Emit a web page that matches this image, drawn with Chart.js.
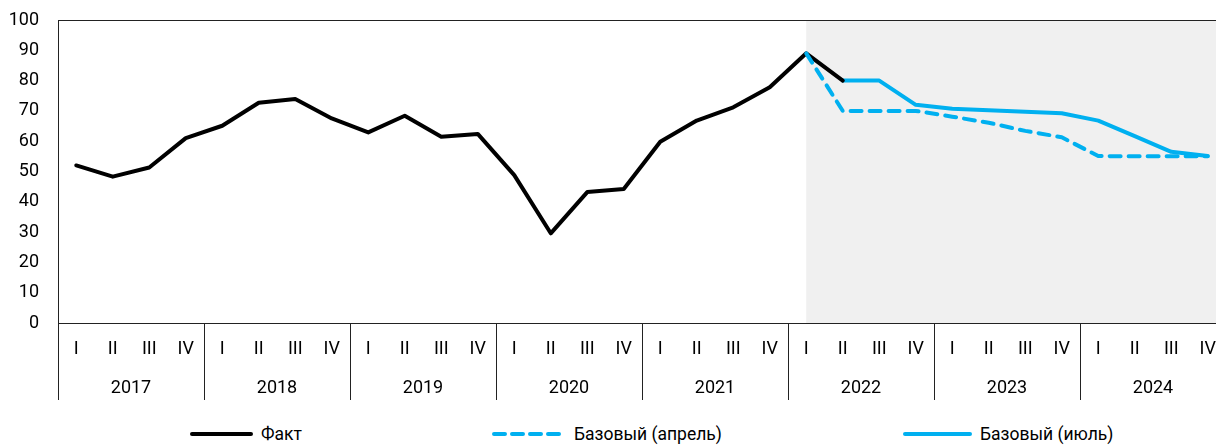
<!DOCTYPE html>
<html>
<head>
<meta charset="utf-8">
<script src="https://cdn.jsdelivr.net/npm/chart.js@4.4.1/dist/chart.umd.min.js"></script>
<style>
  html, body { margin:0; padding:0; background:#fff; overflow:hidden; width:1216px; height:446px; }
  #wrap { position:relative; width:1230px; height:412px; }
  #legend { position:absolute; top:424px; left:0; width:1216px; height:24px; font-family:Roboto,sans-serif; font-size:17.5px; color:#000; }
  .li { position:absolute; top:0; display:flex; align-items:center; white-space:nowrap; }
  .li svg { margin-right:8px; }
</style>
</head>
<body>
<div id="wrap"><canvas id="c" width="1230" height="412"></canvas></div>
<div id="legend"></div>
<script>
const quarters = ["I","II","III","IV"];
const years = ["2017","2018","2019","2020","2021","2022","2023","2024"];
const categories = [];
years.forEach(y => quarters.forEach(q => categories.push(q)));

const fact = [52,48.3,51.3,61,65.1,72.7,73.9,67.5,62.9,68.4,61.5,62.4,48.8,29.6,43.2,44.2,59.8,66.8,71.2,77.8,89,80,
  null,null,null,null,null,null,null,null,null,null];
const baseApril = [null,null,null,null,null,null,null,null,null,null,null,null,null,null,null,null,null,null,null,null,
  89,70,70,70,68.1,66.1,63.4,61.3,55.1,55,55,55];
const baseJuly = [null,null,null,null,null,null,null,null,null,null,null,null,null,null,null,null,null,null,null,null,null,
  80,80,72,70.7,70.2,69.7,69.2,66.8,61.7,56.5,55.1];
const yTicks = [0,10,20,30,40,50,60,70,80,90,100];
const forecastStartIndex = 20;

const BLUE = "#00B0F0";
const FONT = 'Roboto,sans-serif';

const decor = {
  id: "decor",
  beforeDatasetsDraw(chart) {
    const {ctx, chartArea:a, scales:{x}} = chart;
    const xs = x.getPixelForValue(forecastStartIndex);
    ctx.save();
    ctx.fillStyle = "#F0F0F0";
    ctx.fillRect(xs, a.top, a.right - xs, a.bottom - a.top);
    ctx.strokeStyle = "#222";
    ctx.lineWidth = 1;
    ctx.beginPath();
    ctx.moveTo(a.left, a.top + 0.5);
    ctx.lineTo(a.right, a.top + 0.5);
    ctx.stroke();
    ctx.restore();
  },
  afterDraw(chart) {
    const {ctx, chartArea:a, scales:{x}} = chart;
    const step = x.getPixelForValue(1) - x.getPixelForValue(0);
    ctx.save();
    ctx.strokeStyle = "#222";
    ctx.lineWidth = 1;
    for (let k = 0; k <= years.length; k++) {
      const px = Math.round(x.getPixelForValue(k * 4) - step / 2) + 0.5;
      ctx.beginPath();
      ctx.moveTo(px, a.bottom);
      ctx.lineTo(px, a.bottom + 77);
      ctx.stroke();
    }
    ctx.restore();
  }
};

function noPadH(s, h) { s.height = h; s.paddingLeft = 0; s.paddingRight = 0; }

const chart = new Chart(document.getElementById("c"), {
  type: "line",
  data: {
    labels: categories,
    datasets: [
      { label: "Факт", data: fact, borderColor: "#000", borderWidth: 4, pointRadius: 0, order: 1 },
      { label: "Базовый (апрель)", data: baseApril, borderColor: BLUE, borderWidth: 4, borderDash: [11, 8], pointRadius: 0, order: 0 },
      { label: "Базовый (июль)", data: baseJuly, borderColor: BLUE, borderWidth: 4, pointRadius: 0, order: 2 }
    ]
  },
  options: {
    responsive: false,
    animation: false,
    devicePixelRatio: 1,
    layout: { padding: { top: 20, right: 4, bottom: 0, left: 0 } },
    plugins: { legend: { display: false }, tooltip: { enabled: false } },
    elements: { line: { tension: 0, borderCapStyle: "round", borderJoinStyle: "round" } },
    scales: {
      x: {
        type: "category",
        offset: true,
        grid: { display: false, drawTicks: false },
        border: { display: true, color: "#222", width: 1 },
        ticks: { color: "#000", font: { family: FONT, size: 18 }, padding: 16, maxRotation: 0, autoSkip: false },
        afterFit(s) { noPadH(s, 50); }
      },
      x2: {
        type: "category",
        labels: years,
        position: "bottom",
        offset: true,
        grid: { display: false, drawTicks: false },
        border: { display: false },
        ticks: { color: "#000", font: { family: FONT, size: 18 }, padding: 5, maxRotation: 0, autoSkip: false },
        afterFit(s) { noPadH(s, 39); }
      },
      y: {
        min: 0, max: 100,
        afterBuildTicks(s) { s.ticks = yTicks.map(v => ({ value: v })); },
        grid: { display: false, drawTicks: false },
        border: { display: true, color: "#222", width: 1 },
        ticks: { color: "#000", font: { family: FONT, size: 18 }, padding: 19 },
        afterFit(s) { s.width = 58; s.paddingTop = 0; s.paddingBottom = 0; }
      }
    }
  },
  plugins: [decor]
});
</script>
<script>
// HTML legend built from the chart's datasets
(function(){
  const lg = document.getElementById("legend");
  const lefts = [190, 492, 903];
  const widths = [63, 74, 69];
  chart.data.datasets.forEach((d, i) => {
    const item = document.createElement("div");
    item.className = "li";
    item.style.left = lefts[i] + "px";
    const w = widths[i];
    const dash = d.borderDash ? 'stroke-dasharray="11 7"' : '';
    item.innerHTML = '<svg width="' + w + '" height="8"><line x1="2" y1="4" x2="' + (w-2) + '" y2="4" stroke="' + d.borderColor +
      '" stroke-width="4" stroke-linecap="round" ' + dash + '/></svg><span></span>';
    item.querySelector("span").textContent = d.label;
    lg.appendChild(item);
  });
})();
</script>
</body>
</html>
